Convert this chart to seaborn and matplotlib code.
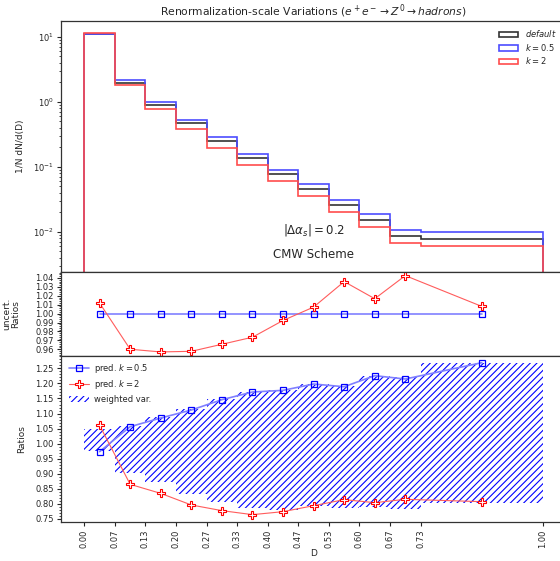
import matplotlib
matplotlib.use('Agg')
import matplotlib.pyplot as plt
import seaborn as sns
import numpy as np
from matplotlib.patches import Patch
from matplotlib.ticker import AutoMinorLocator, FixedLocator

# bin edges in D and the histogram values
edges = [0.0, 0.0667, 0.1333, 0.2, 0.2667, 0.3333, 0.4, 0.4667, 0.5333, 0.6, 0.6667, 0.7333, 1.0]
h_default = [10.9, 1.96, 0.89, 0.464, 0.245, 0.134, 0.077, 0.0448, 0.026, 0.0149, 0.00848, 0.0077]
h_k05 = [11.1, 2.13, 0.977, 0.516, 0.283, 0.158, 0.090, 0.054, 0.0307, 0.0185, 0.0105, 0.00977]
h_k2 = [11.5, 1.78, 0.771, 0.385, 0.196, 0.105, 0.0595, 0.035, 0.0203, 0.0117, 0.0066, 0.0061]

# uncertainty ratios (middle panel)
unc_k05 = [1.0, 1.0, 1.0, 1.0, 1.0, 1.0, 1.0, 1.0, 1.0, 1.0, 1.0, 1.0]
unc_k2 = [1.0118, 0.960, 0.957, 0.9577, 0.9656, 0.9735, 0.9923, 1.0073, 1.0359, 1.0167, 1.0426, 1.0081]

# prediction ratios (bottom panel)
rat_k05 = [0.9735, 1.0564, 1.0852, 1.1117, 1.146, 1.1715, 1.177, 1.198, 1.189, 1.2257, 1.2146, 1.2688]
rat_k2 = [1.0608, 0.865, 0.835, 0.7965, 0.7777, 0.7644, 0.7743, 0.7942, 0.8142, 0.8042, 0.8153, 0.8075]

# weighted variation band per bin
var_hi = [1.0487, 1.0597, 1.0874, 1.114, 1.147, 1.1715, 1.177, 1.198, 1.190, 1.2257, 1.221, 1.2688]
var_lo = [0.9746, 0.9038, 0.8739, 0.834, 0.8075, 0.7876, 0.780, 0.794, 0.7854, 0.791, 0.782, 0.802]

centers = [(edges[i] + edges[i + 1]) / 2 for i in range(len(edges) - 1)]
tick_labels = ['%.2f' % e for e in edges]

sns.set_style('ticks')
plt.rcParams['font.family'] = ['DejaVu Sans']
plt.rcParams['hatch.linewidth'] = 0.8
fs = 6
lfs = 6.5

fig = plt.figure(figsize=(5.6, 5.61), dpi=100)
W, H = 560., 561.
x0, x1 = 61.4, 565.8   # axes spans past the right edge, as in the cropped original
left = x0 / W
width = (x1 - x0) / W
ax1 = fig.add_axes([left, 1 - 271.7 / H, width, (271.7 - 21) / H])
ax2 = fig.add_axes([left, 1 - 355.5 / H, width, (355.5 - 271.7) / H], sharex=ax1)
ax3 = fig.add_axes([left, 1 - 521.7 / H, width, (521.7 - 356) / H], sharex=ax1)

xlim = (-0.05, 1.05)
lab_x = (25 - x0) / (x1 - x0)

# top panel: histograms
hcols = ['#333333', '#4d4dff', '#ff4d4d']
for vals, c in zip([h_default, h_k05, h_k2], hcols):
    ax1.stairs(vals, edges, baseline=1e-6, fill=False, color=c, linewidth=1.2)
ax1.set_yscale('log')
ax1.set_ylim(10 ** -2.615, 10 ** 1.241)
ax1.set_xlim(*xlim)
ax1.set_ylabel('1/N dN/d(D)', fontsize=lfs)
ax1.yaxis.set_label_coords(lab_x, 0.5)
ax1.set_title(r'Renormalization-scale Variations ($e^+e^- \rightarrow Z^0 \rightarrow hadrons$)',
              fontsize=7.75, pad=4)
handles = [Patch(facecolor='none', edgecolor=c, linewidth=1.2) for c in hcols]
ax1.legend(handles, [r'$default$', r'$k = 0.5$', r'$k = 2$'], loc='upper left',
           frameon=False, fontsize=fs, handlelength=2.3, labelspacing=0.3,
           handletextpad=0.8, borderaxespad=0,
           bbox_to_anchor=((495.7 - x0) / (x1 - x0), 0.984))
ax1.text(0.5, 0.0105, r'$|\Delta\alpha_s| = 0.2$', ha='center', va='center', fontsize=8.5)
ax1.text(0.5, 0.0044, 'CMW Scheme', ha='center', va='center', fontsize=8.5)
ax1.tick_params(axis='x', which='both', bottom=False, labelbottom=False)

# middle panel: uncertainty ratios
sns.lineplot(x=centers, y=unc_k05, ax=ax2, color='#8080ff', linewidth=1.2,
             marker='s', markersize=5, markerfacecolor='none', markeredgecolor='blue',
             markeredgewidth=0.9)
sns.lineplot(x=centers, y=unc_k2, ax=ax2, color='#ff5c5c', linewidth=0.8,
             marker='P', markersize=6, markerfacecolor='white', markeredgecolor='red',
             markeredgewidth=0.8)
ax2.set_ylim(0.953, 1.047)
ax2.yaxis.set_major_locator(FixedLocator(np.round(np.arange(0.96, 1.0401, 0.01), 2)))
ax2.set_ylabel('uncert.\nRatios', fontsize=lfs, linespacing=1.0)
ax2.yaxis.set_label_coords((20.5 - x0) / (x1 - x0), 0.5)
ax2.tick_params(axis='x', which='both', bottom=False, labelbottom=False)

# bottom panel: prediction ratios and weighted variation band
ax3.fill_between(edges, var_lo + [var_lo[-1]], var_hi + [var_hi[-1]], step='post',
                 facecolor='none', edgecolor='blue', hatch='/////', linewidth=0,
                 label='weighted var.')
sns.lineplot(x=centers, y=rat_k05, ax=ax3, color='#8080ff', linewidth=1.2,
             marker='s', markersize=5, markerfacecolor='none', markeredgecolor='blue',
             markeredgewidth=0.9, label=r'pred. $k = 0.5$')
sns.lineplot(x=centers, y=rat_k2, ax=ax3, color='#ff5c5c', linewidth=0.8,
             marker='P', markersize=6, markerfacecolor='white', markeredgecolor='red',
             markeredgewidth=0.8, label=r'pred. $k = 2$')
ax3.set_ylim(0.741, 1.291)
ax3.yaxis.set_major_locator(FixedLocator(np.round(np.arange(0.75, 1.2501, 0.05), 2)))
ax3.set_ylabel('Ratios', fontsize=lfs)
ax3.yaxis.set_label_coords((26.5 - x0) / (x1 - x0), 0.5)
ax3.set_xlabel('D', fontsize=lfs, labelpad=1)
ax3.set_xticks(edges)
ax3.set_xticklabels(tick_labels, rotation=90)
h, l = ax3.get_legend_handles_labels()
order = [l.index(r'pred. $k = 0.5$'), l.index(r'pred. $k = 2$'), l.index('weighted var.')]
ax3.legend([h[i] for i in order], [l[i] for i in order], loc='upper left',
           frameon=False, fontsize=fs, labelspacing=0.4, handlelength=2.4,
           handletextpad=0.6, bbox_to_anchor=(0, 1.01))

for ax in [ax1, ax2, ax3]:
    ax.tick_params(labelsize=fs, length=3, width=0.8, pad=2.5)
    ax.tick_params(which='minor', length=1.5, width=0.6)
    for s in ax.spines.values():
        s.set_linewidth(0.9)
        s.set_color('#333333')
    ax.spines['right'].set_visible(False)
for ax in [ax2, ax3]:
    ax.yaxis.set_minor_locator(AutoMinorLocator(5))
ax3.set_xlim(*xlim)

fig.savefig('out.png', dpi=100)
